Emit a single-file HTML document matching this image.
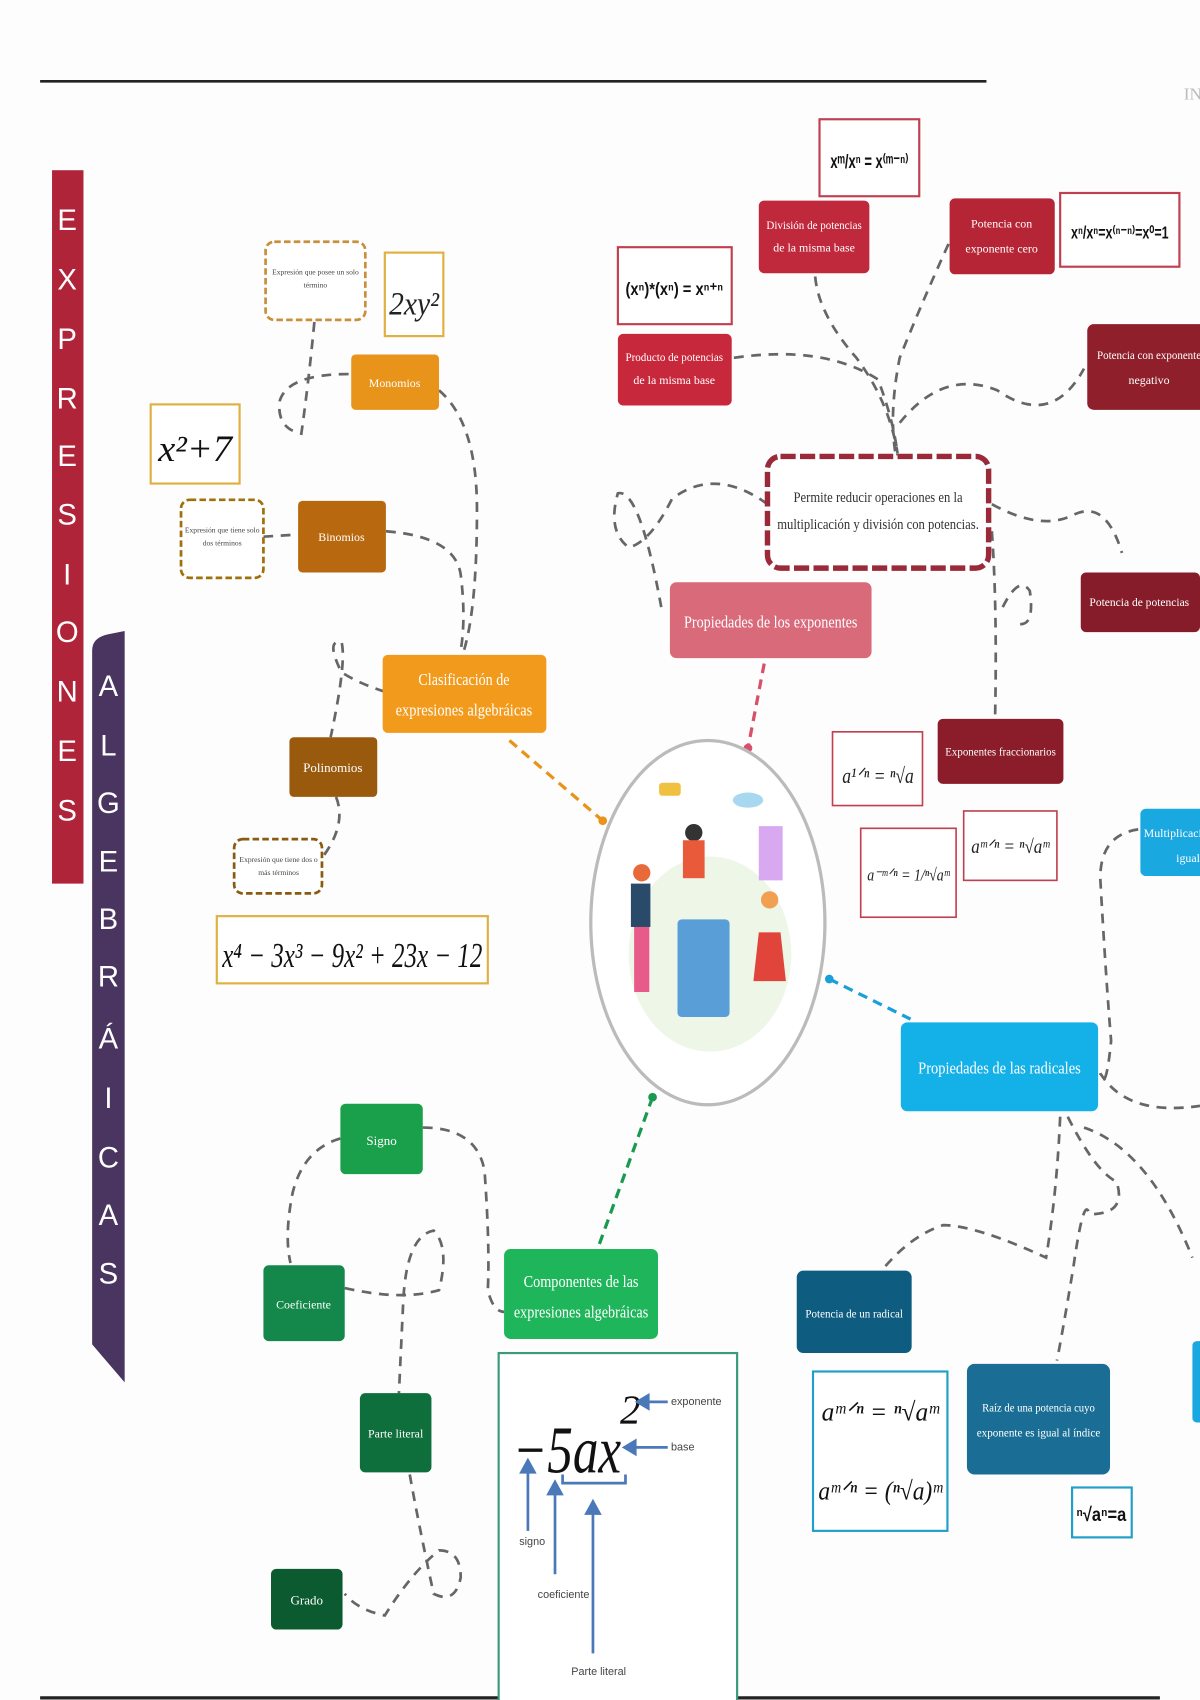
<!DOCTYPE html>
<html><head><meta charset="utf-8"><style>
html,body{margin:0;padding:0;background:#fff;width:1200px;height:1700px;overflow:hidden}
svg{display:block}
text{font-family:"Liberation Serif",serif}
.s{font-family:"Liberation Sans",sans-serif}
.w{fill:#fff;text-anchor:middle}
.c{stroke:#666;stroke-width:2.5;stroke-dasharray:9 7;fill:none}
</style></head><body>
<svg width="1200" height="1700" viewBox="0 0 1107 1568" preserveAspectRatio="none">
<rect width="1107" height="1568" fill="#fdfdfd"/>
<line x1="37" y1="75" x2="910" y2="75" stroke="#222" stroke-width="2.5"/>
<line x1="37" y1="1566" x2="1070" y2="1566" stroke="#222" stroke-width="3"/>
<text x="1092" y="92" font-size="16" fill="#bbb">IN</text>

<!-- side bars -->
<rect x="48" y="157" width="29" height="658" fill="#b0243a"/>
<g font-size="27">
<text x="62" y="212" class="w s">E</text><text x="62" y="267" class="w s">X</text><text x="62" y="322" class="w s">P</text><text x="62" y="377" class="w s">R</text><text x="62" y="430" class="w s">E</text><text x="62" y="484" class="w s">S</text><text x="62" y="539" class="w s">I</text><text x="62" y="592" class="w s">O</text><text x="62" y="647" class="w s">N</text><text x="62" y="702" class="w s">E</text><text x="62" y="757" class="w s">S</text>
</g>
<path d="M85 600 Q85 588 100 585 L115 582 L115 1275 L85 1240 Z" fill="#4a3560"/>
<g font-size="27">
<text x="100" y="642" class="w s">A</text><text x="100" y="697" class="w s">L</text><text x="100" y="750" class="w s">G</text><text x="100" y="804" class="w s">E</text><text x="100" y="857" class="w s">B</text><text x="100" y="910" class="w s">R</text><text x="100" y="967" class="w s">Á</text><text x="100" y="1022" class="w s">I</text><text x="100" y="1077" class="w s">C</text><text x="100" y="1130" class="w s">A</text><text x="100" y="1184" class="w s">S</text>
</g>

<!-- connectors -->
<g class="c">
<path d="M290 297 Q285 350 278 400 Q255 395 258 370 Q265 345 322 345"/>
<path d="M405 360 Q440 390 440 470 Q440 560 428 600"/>
<path d="M243 495 L275 493"/>
<path d="M356 490 Q420 495 425 530 Q430 570 425 600"/>
<path d="M355 638 Q330 630 315 620 Q300 590 315 592 Q320 610 305 680"/>
<path d="M310 735 Q320 760 298 790"/>
<path d="M752 255 Q755 290 790 330 Q820 370 828 418"/>
<path d="M875 225 Q850 280 830 330 Q820 380 826 418"/>
<path d="M677 330 Q760 318 810 350 Q825 390 828 420"/>
<path d="M830 390 Q870 340 920 360 Q970 395 1000 340"/>
<path d="M708 465 Q660 430 620 460 Q600 500 580 505 Q560 490 570 455 Q590 450 610 560"/>
<path d="M915 465 Q960 490 990 475 Q1020 460 1035 510"/>
<path d="M915 490 Q920 560 918 660"/>
<path d="M925 560 Q940 530 950 545 Q955 580 938 575"/>
<path d="M1050 765 Q1015 770 1015 810 Q1020 900 1025 960 Q1020 1010 1015 990 Q1040 1030 1107 1020"/>
<path d="M978 1030 Q975 1100 965 1160 Q900 1130 870 1130 Q840 1140 815 1170"/>
<path d="M985 1030 Q1010 1080 1030 1090 Q1040 1120 1005 1120 Q1000 1100 990 1170 Q980 1230 975 1255"/>
<path d="M1000 1040 Q1060 1060 1100 1160"/>
<path d="M314 1050 Q280 1060 270 1100 Q262 1140 268 1165"/>
<path d="M390 1040 Q440 1040 447 1080 Q452 1150 450 1190 Q455 1210 465 1210"/>
<path d="M318 1188 Q370 1200 405 1190 Q415 1150 400 1135 Q375 1140 372 1200 L368 1285"/>
<path d="M378 1360 Q385 1400 400 1470 Q420 1480 425 1455 Q425 1430 405 1430 Q380 1450 355 1490 Q330 1485 318 1470"/>
</g>
<g fill="none" stroke-width="3" stroke-dasharray="9 6">
<path d="M470 683 L556 757" stroke="#e8931a"/>
<path d="M705 612 L690 690" stroke="#d9506a"/>
<path d="M765 903 L840 940" stroke="#1aa0d8"/>
<path d="M602 1012 L552 1150" stroke="#1a9a50"/>
</g>
<circle cx="556" cy="757" r="4" fill="#e8931a"/><circle cx="690" cy="690" r="4" fill="#d9506a"/>
<circle cx="765" cy="903" r="4" fill="#1aa0d8"/><circle cx="602" cy="1012" r="4" fill="#1a9a50"/>

<!-- center -->
<ellipse cx="653" cy="851" rx="108" ry="168" fill="#fff" stroke="#bbb" stroke-width="3"/>
<ellipse cx="655" cy="880" rx="75" ry="90" fill="#eef6e8"/>
<rect x="625" y="848" width="48" height="90" fill="#5a9ed8" rx="4"/>
<rect x="700" y="762" width="22" height="50" fill="#d8a8f0"/>
<circle cx="640" cy="768" r="8" fill="#333"/><rect x="630" y="775" width="20" height="35" fill="#e85a3a"/>
<circle cx="592" cy="805" r="8" fill="#e86a3a"/><rect x="582" y="815" width="18" height="40" fill="#2a4a6a"/>
<rect x="585" y="855" width="14" height="60" fill="#e85a8a"/>
<circle cx="710" cy="830" r="8" fill="#f0a050"/><path d="M700 860 L720 860 L725 905 L695 905Z" fill="#e0443a"/>
<rect x="608" y="722" width="20" height="12" fill="#f0c040" rx="3"/>
<ellipse cx="690" cy="738" rx="14" ry="7" fill="#a8d8f0"/>

<!-- orange group -->
<rect x="245" y="223" width="92" height="72" rx="8" fill="#fff" stroke="#c8903a" stroke-width="2.5" stroke-dasharray="6 3"/>
<text x="291" y="253" font-size="7" text-anchor="middle" fill="#444">Expresión que posee un solo</text><text x="291" y="265" font-size="7" text-anchor="middle" fill="#444">término</text>
<rect x="355" y="233" width="54" height="77" fill="#fff" stroke="#e0b040" stroke-width="2"/>
<text x="382" y="290" font-size="30" font-style="italic" text-anchor="middle" fill="#222" textLength="46" lengthAdjust="spacingAndGlyphs">2xy²</text>
<rect x="324" y="327" width="81" height="51" rx="4" fill="#e8931a"/><text x="364" y="357" font-size="11" class="w">Monomios</text>
<rect x="139" y="373" width="82" height="73" fill="#fff" stroke="#e0b040" stroke-width="2"/>
<text x="180" y="425" font-size="34" font-style="italic" text-anchor="middle" fill="#111" textLength="68" lengthAdjust="spacingAndGlyphs">x²+7</text>
<rect x="167" y="461" width="76" height="72" rx="8" fill="#fff" stroke="#a0700a" stroke-width="2.5" stroke-dasharray="6 3"/>
<text x="205" y="491" font-size="7" text-anchor="middle" fill="#444">Expresión que tiene solo</text><text x="205" y="503" font-size="7" text-anchor="middle" fill="#444">dos términos</text>
<rect x="275" y="462" width="81" height="66" rx="4" fill="#b8690f"/><text x="315" y="499" font-size="11" class="w">Binomios</text>
<rect x="353" y="604" width="151" height="72" rx="5" fill="#f29a1c"/>
<text x="428" y="632" font-size="16" class="w" textLength="84" lengthAdjust="spacingAndGlyphs">Clasificación de</text><text x="428" y="660" font-size="16" class="w" textLength="126" lengthAdjust="spacingAndGlyphs">expresiones algebráicas</text>
<rect x="267" y="680" width="81" height="55" rx="4" fill="#9a5a0e"/><text x="307" y="712" font-size="12" class="w">Polinomios</text>
<rect x="216" y="774" width="81" height="50" rx="8" fill="#fff" stroke="#8a5a10" stroke-width="2.5" stroke-dasharray="6 3"/>
<text x="257" y="795" font-size="7" text-anchor="middle" fill="#444">Expresión que tiene dos o</text><text x="257" y="807" font-size="7" text-anchor="middle" fill="#444">más términos</text>
<rect x="200" y="845" width="250" height="62" fill="#fff" stroke="#e0b040" stroke-width="2"/>
<text x="325" y="892" font-size="32" font-style="italic" text-anchor="middle" fill="#111" textLength="240" lengthAdjust="spacingAndGlyphs">x⁴ − 3x³ − 9x² + 23x − 12</text>

<!-- red group -->
<rect x="756" y="110" width="92" height="71" fill="#fff" stroke="#c04050" stroke-width="2"/>
<text x="802" y="155" font-size="18" font-weight="bold" text-anchor="middle" fill="#111" class="s" textLength="72" lengthAdjust="spacingAndGlyphs">xᵐ/xⁿ = x⁽ᵐ⁻ⁿ⁾</text>
<rect x="700" y="185" width="102" height="67" rx="5" fill="#c0283c"/>
<text x="751" y="211" font-size="11" class="w" textLength="88" lengthAdjust="spacingAndGlyphs">División de potencias</text><text x="751" y="232" font-size="11" class="w">de la misma base</text>
<rect x="570" y="228" width="105" height="71" fill="#fff" stroke="#c04050" stroke-width="2"/>
<text x="622" y="272" font-size="16" font-weight="bold" text-anchor="middle" fill="#111" class="s" textLength="90" lengthAdjust="spacingAndGlyphs">(xⁿ)*(xⁿ) = xⁿ⁺ⁿ</text>
<rect x="570" y="308" width="105" height="66" rx="5" fill="#c8283c"/>
<text x="622" y="333" font-size="11" class="w" textLength="90" lengthAdjust="spacingAndGlyphs">Producto de potencias</text><text x="622" y="354" font-size="11" class="w">de la misma base</text>
<rect x="876" y="183" width="97" height="70" rx="5" fill="#b52535"/>
<text x="924" y="210" font-size="11" class="w">Potencia con</text><text x="924" y="233" font-size="11" class="w">exponente cero</text>
<rect x="978" y="178" width="110" height="68" fill="#fff" stroke="#c04050" stroke-width="2"/>
<text x="1033" y="220" font-size="16" font-weight="bold" text-anchor="middle" fill="#111" class="s" textLength="90" lengthAdjust="spacingAndGlyphs">xⁿ/xⁿ=x⁽ⁿ⁻ⁿ⁾=x⁰=1</text>
<rect x="1003" y="299" width="110" height="79" rx="6" fill="#8f1f2a"/>
<text x="1060" y="331" font-size="11" class="w" textLength="96" lengthAdjust="spacingAndGlyphs">Potencia con exponente</text><text x="1060" y="354" font-size="11" class="w">negativo</text>
<rect x="708" y="421" width="204" height="103" rx="12" fill="#fff" stroke="#9a2a3a" stroke-width="5" stroke-dasharray="14 4"/>
<rect x="714" y="427" width="192" height="91" rx="10" fill="none" stroke="#fff" stroke-width="1.5"/>
<text x="810" y="463" font-size="14" text-anchor="middle" fill="#333" textLength="156" lengthAdjust="spacingAndGlyphs">Permite reducir operaciones en la</text>
<text x="810" y="488" font-size="14" text-anchor="middle" fill="#333" textLength="186" lengthAdjust="spacingAndGlyphs">multiplicación y división con potencias.</text>
<rect x="618" y="537" width="186" height="70" rx="6" fill="#d96a7a"/>
<text x="711" y="579" font-size="16" class="w" textLength="160" lengthAdjust="spacingAndGlyphs">Propiedades de los exponentes</text>
<rect x="997" y="528" width="110" height="55" rx="5" fill="#861c2a"/>
<text x="1051" y="559" font-size="11" class="w" textLength="92" lengthAdjust="spacingAndGlyphs">Potencia de potencias</text>
<rect x="865" y="663" width="116" height="60" rx="5" fill="#8b1c2a"/>
<text x="923" y="697" font-size="11" class="w" textLength="102" lengthAdjust="spacingAndGlyphs">Exponentes fraccionarios</text>
<rect x="768" y="675" width="83" height="68" fill="#fff" stroke="#c04050" stroke-width="1.5"/>
<text x="810" y="722" font-size="20" font-style="italic" text-anchor="middle" fill="#222" textLength="66" lengthAdjust="spacingAndGlyphs">a¹ᐟⁿ = ⁿ√a</text>
<rect x="794" y="764" width="88" height="82" fill="#fff" stroke="#c04050" stroke-width="1.5"/>
<text x="838" y="812" font-size="16" font-style="italic" text-anchor="middle" fill="#222" textLength="76" lengthAdjust="spacingAndGlyphs">a⁻ᵐᐟⁿ = 1/ⁿ√aᵐ</text>
<rect x="889" y="748" width="86" height="64" fill="#fff" stroke="#c04050" stroke-width="1.5"/>
<text x="932" y="787" font-size="18" font-style="italic" text-anchor="middle" fill="#222" textLength="72" lengthAdjust="spacingAndGlyphs">aᵐᐟⁿ = ⁿ√aᵐ</text>
<rect x="1052" y="746" width="70" height="62" rx="5" fill="#1aa8e0"/>
<text x="1055" y="772" font-size="11" fill="#fff">Multiplicación</text><text x="1085" y="795" font-size="11" fill="#fff">igual</text>

<!-- blue group -->
<rect x="831" y="943" width="182" height="82" rx="6" fill="#14b0e8"/>
<text x="922" y="990" font-size="16" class="w" textLength="150" lengthAdjust="spacingAndGlyphs">Propiedades de las radicales</text>
<rect x="735" y="1172" width="106" height="76" rx="6" fill="#0e5c80"/>
<text x="788" y="1215" font-size="11" class="w" textLength="90" lengthAdjust="spacingAndGlyphs">Potencia de un radical</text>
<rect x="750" y="1265" width="124" height="147" fill="#fff" stroke="#20a0c8" stroke-width="2"/>
<text x="812" y="1310" font-size="24" font-style="italic" text-anchor="middle" fill="#111" textLength="108" lengthAdjust="spacingAndGlyphs">aᵐᐟⁿ = ⁿ√aᵐ</text>
<text x="812" y="1383" font-size="24" font-style="italic" text-anchor="middle" fill="#111" textLength="114" lengthAdjust="spacingAndGlyphs">aᵐᐟⁿ = (ⁿ√a)ᵐ</text>
<rect x="892" y="1258" width="132" height="102" rx="7" fill="#1a6e96"/>
<text x="958" y="1302" font-size="11" class="w" textLength="104" lengthAdjust="spacingAndGlyphs">Raíz de una potencia cuyo</text><text x="958" y="1325" font-size="11" class="w" textLength="114" lengthAdjust="spacingAndGlyphs">exponente es igual al índice</text>
<rect x="989" y="1372" width="55" height="46" fill="#fff" stroke="#20a0c8" stroke-width="2"/>
<text x="1016" y="1403" font-size="18" font-weight="bold" text-anchor="middle" fill="#111" class="s" textLength="46" lengthAdjust="spacingAndGlyphs">ⁿ√aⁿ=a</text>
<rect x="1100" y="1237" width="12" height="75" rx="4" fill="#1aa8e0"/>

<!-- green group -->
<rect x="314" y="1018" width="76" height="65" rx="5" fill="#1aa04a"/><text x="352" y="1056" font-size="12" class="w">Signo</text>
<rect x="243" y="1167" width="75" height="70" rx="5" fill="#13884a"/><text x="280" y="1207" font-size="11" class="w">Coeficiente</text>
<rect x="465" y="1152" width="142" height="83" rx="6" fill="#1fb55a"/>
<text x="536" y="1187" font-size="16" class="w" textLength="106" lengthAdjust="spacingAndGlyphs">Componentes de las</text><text x="536" y="1215" font-size="16" class="w" textLength="124" lengthAdjust="spacingAndGlyphs">expresiones algebráicas</text>
<rect x="332" y="1285" width="66" height="73" rx="5" fill="#0e6e3c"/><text x="365" y="1326" font-size="11" class="w">Parte literal</text>
<rect x="250" y="1447" width="66" height="56" rx="5" fill="#0c5a30"/><text x="283" y="1480" font-size="12" class="w">Grado</text>
<rect x="460" y="1248" width="220" height="330" fill="#fff" stroke="#3a9a7a" stroke-width="2"/>
<text x="473" y="1358" font-size="62" font-style="italic" fill="#111" textLength="100" lengthAdjust="spacingAndGlyphs">−5ax</text>
<text x="572" y="1313" font-size="38" font-style="italic" fill="#111">2</text>
<g stroke="#4a78b8" stroke-width="2.5" fill="#4a78b8">
<line x1="596" y1="1293" x2="616" y2="1293"/><path d="M588 1293 L598 1287 L598 1299Z"/>
<line x1="584" y1="1335" x2="616" y2="1335"/><path d="M576 1335 L586 1329 L586 1341Z"/>
<line x1="487" y1="1355" x2="487" y2="1412"/><path d="M487 1347 L481 1358 L493 1358Z"/>
<line x1="512" y1="1375" x2="512" y2="1452"/><path d="M512 1367 L506 1378 L518 1378Z"/>
<line x1="547" y1="1393" x2="547" y2="1525"/><path d="M547 1385 L541 1396 L553 1396Z"/>
<path d="M519 1360 L519 1368 L577 1368 L577 1360" fill="none"/>
</g>
<g font-size="10" fill="#444" class="s">
<text x="619" y="1296" class="s">exponente</text><text x="619" y="1338" class="s">base</text>
<text x="479" y="1425" class="s">signo</text><text x="496" y="1474" class="s">coeficiente</text><text x="527" y="1545" class="s">Parte literal</text>
</g>
</svg>
</body></html>
